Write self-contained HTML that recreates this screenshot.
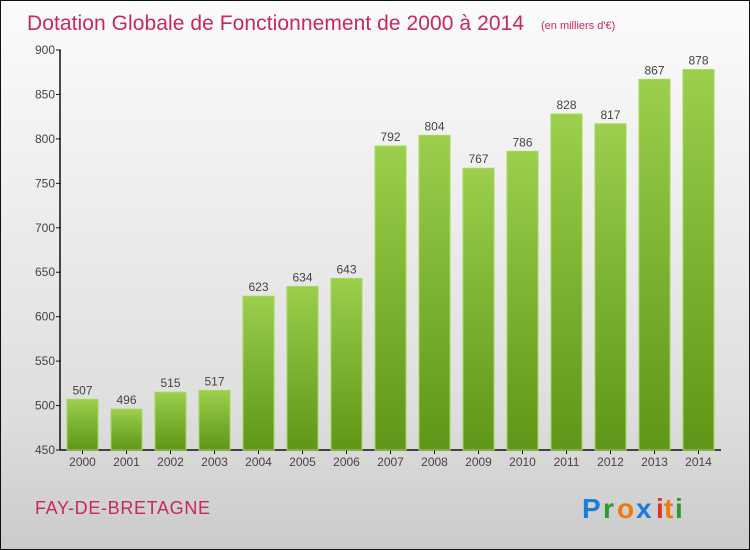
<!DOCTYPE html>
<html><head><meta charset="utf-8"><style>
html,body{margin:0;padding:0}
body{width:750px;height:550px;overflow:hidden;font-family:"Liberation Sans",sans-serif}
#frame{position:absolute;left:0;top:0;width:748px;height:548px;border:1px solid #111;background:linear-gradient(#fbfbfb,#f0f0f0 30%,#dedede 75%,#cbcbcb);}
</style></head><body>
<div id="frame">
<svg id="chart" width="750" height="550" style="position:absolute;left:-1px;top:-1px">
<defs><linearGradient id="bg" x1="0" y1="0" x2="0" y2="1"><stop offset="0" stop-color="#9bcf4c"/><stop offset="1" stop-color="#5e9617"/></linearGradient></defs>
<text x="27" y="30" font-size="21" fill="#c8285a" font-weight="300" textLength="497">Dotation Globale de Fonctionnement de 2000 à 2014</text>
<text x="541" y="29" font-size="11" fill="#c8285a">(en milliers d'€)</text>
<g id="axes"></g><g id="bars"></g>
<text x="35" y="514" font-size="18" fill="#c8285a" textLength="175">FAY-DE-BRETAGNE</text>
<g font-size="28" font-weight="bold" font-family="'Liberation Sans',sans-serif">
<text x="582" y="518" fill="#1e7bd6">P</text><text x="603" y="518" fill="#2e9a2e">r</text><text x="617" y="518" fill="#f07a10">o</text><text x="636" y="518" fill="#1e7bd6">x</text><text x="656" y="518" fill="#e03030">i</text><text x="664" y="518" fill="#f07a10">t</text><text x="675" y="518" fill="#2e9a2e">i</text>
</g>
</svg></div>
<script>
const years=["2000","2001","2002","2003","2004","2005","2006","2007","2008","2009","2010","2011","2012","2013","2014"];
const values=[507,496,515,517,623,634,643,792,804,767,786,828,817,867,878];
const yTicks=[450,500,550,600,650,700,750,800,850,900];
const NS="http://www.w3.org/2000/svg";
const y0=450,y1=50,vmin=450,vmax=900;
function yScale(v){return y0-(v-vmin)/(vmax-vmin)*(y0-y1);}
function xScale(i){return 82.5+i*44;}
function mk(tag,attrs,parent){const e=document.createElementNS(NS,tag);for(const k in attrs)e.setAttribute(k,attrs[k]);parent.appendChild(e);return e;}
const axes=document.getElementById('axes'),bars=document.getElementById('bars');
let yl=mk('line',{x1:60,y1:y1,x2:60,y2:y0,stroke:'#111','stroke-width':1.5},axes);


let xl=mk('line',{x1:60,y1:y0,x2:721,y2:y0,stroke:'#111','stroke-width':1.5},axes);


yTicks.forEach(t=>{const y=yScale(t);
mk('line',{x1:56,y1:y,x2:61,y2:y,stroke:'#111'},axes);
const tx=mk('text',{x:55,y:y+4,'font-size':12,fill:'#444','text-anchor':'end'},axes);tx.textContent=t;

});
years.forEach((yr,i)=>{const cx=xScale(i),v=values[i],top=yScale(v);
const r=mk('rect',{x:cx-15.5,y:top,width:31,height:y0-top,fill:'url(#bg)',stroke:'#a6d85a','stroke-width':1},bars);


const vl=mk('text',{x:cx,y:top-5,'font-size':12,fill:'#444','text-anchor':'middle'},bars);vl.textContent=v;


mk('line',{x1:cx,y1:y0,x2:cx,y2:y0+4,stroke:'#111'},axes);
const xt=mk('text',{x:cx,y:y0+16,'font-size':12,fill:'#444','text-anchor':'middle'},axes);xt.textContent=yr;

});
</script>
</body></html>
